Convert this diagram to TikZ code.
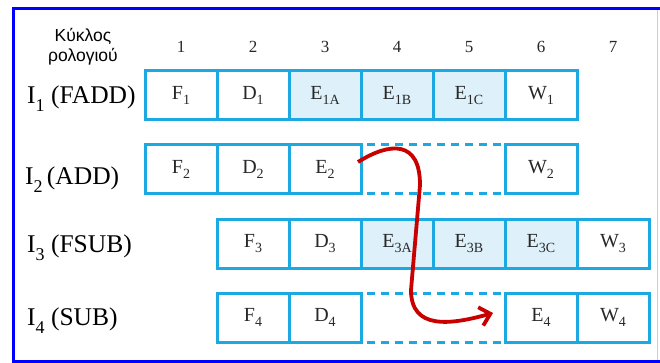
\documentclass[tikz,border=0pt]{standalone}
\usepackage{fontspec}
\setmainfont{Liberation Serif}
\newfontfamily\greekfont{Liberation Sans}
\usetikzlibrary{arrows.meta}
\definecolor{cellblue}{RGB}{28,168,224}
\definecolor{cellfill}{RGB}{222,240,250}
\definecolor{frameblue}{RGB}{0,0,255}
\definecolor{framelight}{RGB}{200,200,235}
\definecolor{arrred}{RGB}{200,0,0}
\definecolor{txtgray}{RGB}{40,40,40}
\newcommand\lowsub[1]{\raisebox{-4.5pt}{\fontsize{14}{14}\selectfont #1}}
\newcommand\rowsub[1]{\raisebox{-8pt}{\fontsize{18}{18}\selectfont #1}}
\begin{document}
\begin{tikzpicture}[x=1pt,y=-1pt,
  cellbox/.style={draw=cellblue, line width=3pt, minimum width=72pt, minimum height=49pt,
    inner sep=0pt, outer sep=0pt, fill=white, text=txtgray, font=\fontsize{20}{20}\selectfont},
  execbox/.style={cellbox, fill=cellfill},
  dashline/.style={draw=cellblue, line width=3pt, dash pattern=on 8pt off 6pt, dash phase=8pt},
  colnum/.style={text=txtgray, font=\fontsize{17}{17}\selectfont, inner sep=0pt},
  rowlabel/.style={anchor=base west, inner sep=0pt, font=\fontsize{25.5}{25.5}\selectfont, text=black},
  flow/.style={draw=arrred, line width=3.8pt, -{Straight Barb[length=10pt,width=19pt]}}]

\useasboundingbox (0,0) rectangle (660,363);
\fill[white] (0,0) rectangle (660,363);

% frame
\draw[framelight, line width=1pt] (657,10) -- (657,360);
\draw[frameblue, line width=3pt] (660,8.5) -- (13.5,8.5) -- (13.5,361.5) -- (660,361.5);

% header
\node[align=center, font=\greekfont\fontsize{17.5}{20}\selectfont, text=black, inner sep=0pt] (hdr) at (83,47) {Κύκλος\\ρολογιού};
\node[colnum] (c1) at (181,47) {1};
\node[colnum] (c2) at (253,47) {2};
\node[colnum] (c3) at (325,47) {3};
\node[colnum] (c4) at (397,47) {4};
\node[colnum] (c5) at (469,47) {5};
\node[colnum] (c6) at (541,47) {6};
\node[colnum] (c7) at (613,47) {7};

% row labels
\node[rowlabel] (l1) at (27,104) {I\rowsub{1} (FADD)};
\node[rowlabel] (l2) at (25,185) {I\rowsub{2}\,(ADD)};
\node[rowlabel] (l3) at (27,252) {I\rowsub{3} (FSUB)};
\node[rowlabel] (l4) at (27,325) {I\rowsub{4} (SUB)};

% row 1
\node[cellbox] (F1) at (181,95.5) {F\lowsub{1}};
\node[cellbox] (D1) at (253,95.5) {D\lowsub{1}};
\node[execbox] (E1A) at (325,95.5) {E\lowsub{1A}};
\node[execbox] (E1B) at (397,95.5) {E\lowsub{1B}};
\node[execbox] (E1C) at (469,95.5) {E\lowsub{1C}};
\node[cellbox] (W1) at (541,95.5) {W\lowsub{1}};

% row 2
\node[cellbox] (F2) at (181,169.5) {F\lowsub{2}};
\node[cellbox] (D2) at (253,169.5) {D\lowsub{2}};
\node[cellbox] (E2) at (325,169.5) {E\lowsub{2}};
\node[cellbox] (W2) at (541,169.5) {W\lowsub{2}};
\draw[dashline] (E2.north east) -- (W2.north west);
\draw[dashline] (E2.south east) -- (W2.south west);

% row 3
\node[cellbox] (F3) at (253,243.5) {F\lowsub{3}};
\node[cellbox] (D3) at (325,243.5) {D\lowsub{3}};
\node[execbox] (E3A) at (397,243.5) {E\lowsub{3A}};
\node[execbox] (E3B) at (469,243.5) {E\lowsub{3B}};
\node[execbox] (E3C) at (541,243.5) {E\lowsub{3C}};
\node[cellbox] (W3) at (613,243.5) {W\lowsub{3}};

% row 4
\node[cellbox] (F4) at (253,317.5) {F\lowsub{4}};
\node[cellbox] (D4) at (325,317.5) {D\lowsub{4}};
\node[cellbox] (E4) at (541,317.5) {E\lowsub{4}};
\node[cellbox] (W4) at (613,317.5) {W\lowsub{4}};
\draw[dashline] (D4.north east) -- (E4.north west);
\draw[dashline] (D4.south east) -- (E4.south west);

% forwarding arrow
\coordinate (s) at (358,162);
\coordinate (t) at (493,313);
\draw[flow] (s) .. controls (390,142) and (420,140) .. (420,185)
  -- (411,290) .. controls (411,330) and (450,325) .. (t);
\end{tikzpicture}
\end{document}
